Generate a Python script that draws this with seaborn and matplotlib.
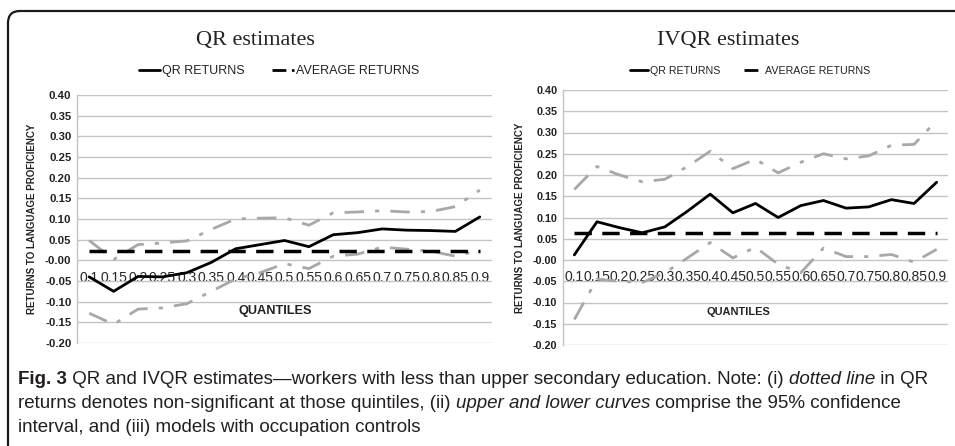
import numpy as np
import pandas as pd
import matplotlib
matplotlib.use("Agg")
import matplotlib.pyplot as plt
from matplotlib.lines import Line2D
from matplotlib.patches import FancyBboxPatch
import seaborn as sns

# quantiles shown on the category axis
quantiles = ["0.1", "0.15", "0.2", "0.25", "0.3", "0.35", "0.4", "0.45", "0.5",
             "0.55", "0.6", "0.65", "0.7", "0.75", "0.8", "0.85", "0.9"]

# QR estimates (left panel)
qr_returns = [-0.040, -0.075, -0.039, -0.040, -0.030, -0.005, 0.028, 0.038, 0.048,
              0.033, 0.062, 0.067, 0.076, 0.073, 0.072, 0.070, 0.105]
qr_upper = [0.048, 0.002, 0.038, 0.042, 0.047, 0.075, 0.100, 0.102, 0.103,
            0.085, 0.115, 0.117, 0.120, 0.117, 0.118, 0.130, 0.170]
qr_lower = [-0.128, -0.155, -0.118, -0.115, -0.105, -0.075, -0.045, -0.030, -0.008,
            -0.020, 0.010, 0.015, 0.032, 0.027, 0.022, 0.010, 0.025]
qr_average = 0.022

# IVQR estimates (right panel)
ivqr_returns = [0.012, 0.090, 0.076, 0.064, 0.078, 0.115, 0.155, 0.111, 0.133,
                0.100, 0.128, 0.140, 0.122, 0.125, 0.142, 0.133, 0.183]
ivqr_upper = [0.166, 0.220, 0.200, 0.184, 0.190, 0.220, 0.256, 0.215, 0.237,
              0.205, 0.230, 0.250, 0.238, 0.245, 0.270, 0.272, 0.328]
ivqr_lower = [-0.140, -0.045, -0.050, -0.053, -0.030, 0.005, 0.041, 0.005, 0.030,
              -0.010, -0.030, 0.028, 0.008, 0.008, 0.013, -0.005, 0.025]
ivqr_average = 0.064

W, H = 955, 446
sns.set_style("white")
plt.rcParams["font.family"] = ["Liberation Sans", "DejaVu Sans"]

fig = plt.figure(figsize=(W / 100, H / 100), dpi=100)

# background layer in pixel coordinates: frame + caption + titles
bg = fig.add_axes([0, 0, 1, 1], zorder=-5)
bg.set_xlim(0, W)
bg.set_ylim(H, 0)
bg.axis("off")
bg.add_patch(FancyBboxPatch((8, 11), 1100, 600,
                            boxstyle="round,pad=0,rounding_size=12",
                            fc="white", ec="#1a1a1a", lw=1.6))

serif = ["Liberation Serif", "DejaVu Serif"]
bg.text(255, 40, "QR estimates", family=serif, fontsize=16, ha="center", va="center", color="#222222")
bg.text(728, 40, "IVQR estimates", family=serif, fontsize=16, ha="center", va="center", color="#222222")


def make_df(ret, up, lo):
    return pd.DataFrame({"pos": np.arange(len(quantiles)), "ret": ret, "up": up, "lo": lo})


def draw_panel(rect, df, avg, tick_fs, ytick_fs, q_fs, q_x, xpad, leg_fs, leg_x):
    ax = fig.add_axes(rect)
    grey = "#A8A8A8"
    ci_dash = (7, 4, 1.5, 4)
    sns.lineplot(data=df, x="pos", y="up", ax=ax, color=grey, lw=2, dashes=False)
    sns.lineplot(data=df, x="pos", y="lo", ax=ax, color=grey, lw=2, dashes=False)
    for ln in ax.lines:
        ln.set_dashes(ci_dash)
    avg_df = pd.DataFrame({"pos": df["pos"], "avg": avg})
    sns.lineplot(data=avg_df, x="pos", y="avg", ax=ax, color="black", lw=2.5)
    ax.lines[-1].set_dashes((5, 3))
    sns.lineplot(data=df, x="pos", y="ret", ax=ax, color="black", lw=2)

    ax.set_xlim(-0.5, len(quantiles) - 0.5)
    ax.set_ylim(-0.2, 0.4)
    ax.set_yticks(np.round(np.arange(-0.2, 0.401, 0.05), 2))
    ax.set_yticklabels([f"{v:.2f}" for v in np.arange(-0.2, 0.401, 0.05)],
                       fontsize=ytick_fs, fontweight="bold", color="#222222")
    ax.set_xticks(df["pos"])
    ax.set_xticklabels(quantiles, fontsize=tick_fs, color="#222222")
    ax.grid(axis="y", color="#C4C4C4", lw=1)
    ax.grid(axis="x", visible=False)
    ax.set_axisbelow(True)
    for s in ["top", "right"]:
        ax.spines[s].set_visible(False)
    ax.spines["bottom"].set_position(("data", 0))
    ax.spines["bottom"].set_visible(False)
    ax.spines["left"].set_color("#C4C4C4")
    ax.spines["left"].set_linewidth(1)
    ax.tick_params(axis="x", length=0, pad=xpad)
    ax.tick_params(axis="y", length=0, pad=4)
    ax.set_xlabel("")
    ax.set_ylabel("RETURNS TO LANGUAGE PROFICIENCY", fontsize=7, fontweight="bold",
                  color="#222222", labelpad=6)
    ax.text(q_x, -0.123, "QUANTILES", transform=ax.get_yaxis_transform(),
            ha="center", va="center", fontsize=q_fs, fontweight="bold", color="#222222")
    handles = [Line2D([], [], color="black", lw=2),
               Line2D([], [], color="black", lw=2, dashes=(5, 2))]
    fig.legend(handles, ["QR RETURNS", "AVERAGE RETURNS"], loc="center",
               bbox_to_anchor=(leg_x, 1 - 71 / H), ncol=2, frameon=False,
               fontsize=leg_fs, handlelength=1.7, handletextpad=0.2, columnspacing=2.2,
               labelcolor="#222222")
    return ax


left = draw_panel([77 / W, 1 - 343 / H, 415 / W, 248 / H],
                  make_df(qr_returns, qr_upper, qr_lower), qr_average,
                  tick_fs=10, ytick_fs=8.2, q_fs=9.2, q_x=(275 - 77) / 415, xpad=8,
                  leg_fs=9, leg_x=279 / W)
right = draw_panel([563 / W, 1 - 345 / H, 385 / W, 255 / H],
                   make_df(ivqr_returns, ivqr_upper, ivqr_lower), ivqr_average,
                   tick_fs=6.4, ytick_fs=7.8, q_fs=7.9, q_x=(738 - 563) / 385, xpad=7,
                   leg_fs=7.7, leg_x=750 / W)

# caption with mixed bold / italic runs
caption = [
    [("Fig. 3", "bold", "normal"),
     (" QR and IVQR estimates\u2014workers with less than upper secondary education. Note: (i) ", "normal", "normal"),
     ("dotted line", "normal", "italic"), (" in QR", "normal", "normal")],
    [("returns denotes non-significant at those quintiles, (ii) ", "normal", "normal"),
     ("upper and lower curves", "normal", "italic"),
     (" comprise the 95% confidence", "normal", "normal")],
    [("interval, and (iii) models with occupation controls", "normal", "normal")],
]
line_y = [380, 403, 427]
fig.canvas.draw()
renderer = fig.canvas.get_renderer()
for runs, y in zip(caption, line_y):
    x = 18
    for txt, weight, style in runs:
        t = bg.text(x, y, txt, fontsize=13.5, fontweight=weight, fontstyle=style,
                    ha="left", va="center", color="#231F20")
        bb = t.get_window_extent(renderer)
        x += bb.width

fig.savefig("out.png", dpi=100)
